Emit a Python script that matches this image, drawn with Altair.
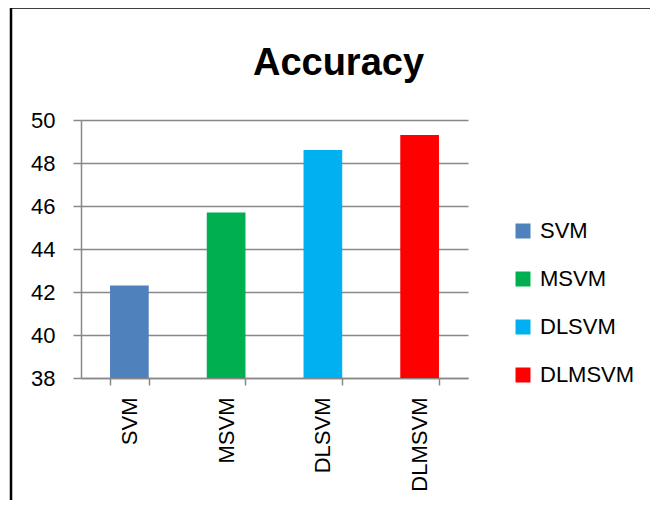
import altair as alt
import pandas as pd

categories = ["SVM", "MSVM", "DLSVM", "DLMSVM"]
values = [42.3, 45.7, 48.6, 49.3]
colors = ["#4F81BD", "#00B050", "#00B0F0", "#FF0000"]
y_ticks = [38, 40, 42, 44, 46, 48, 50]

df = pd.DataFrame({"method": categories, "accuracy": values})

FONT = "Liberation Sans"

bars = alt.Chart(df).mark_bar(clip=True).encode(
    x=alt.X(
        "method:N",
        sort=categories,
        scale=alt.Scale(paddingInner=0.6, paddingOuter=0.3),
        axis=alt.Axis(
            title=None,
            labelAngle=-90,
            labelFontSize=22,
            labelFont=FONT,
            labelColor="#000000",
            labelPadding=12,
            tickBand="extent",
            tickSize=7,
            tickColor="#888888",
            tickWidth=1.5,
            domainColor="#888888",
            domainWidth=1.5,
            grid=False,
        ),
    ),
    y=alt.Y(
        "accuracy:Q",
        scale=alt.Scale(domain=[38, 50], nice=False, zero=False),
        axis=alt.Axis(
            title=None,
            values=y_ticks,
            labelFontSize=22,
            labelFont=FONT,
            labelColor="#000000",
            labelPadding=18,
            tickSize=8,
            tickColor="#888888",
            tickWidth=1.5,
            domainColor="#888888",
            domainWidth=1.5,
            grid=True,
            gridColor="#888888",
            gridWidth=1.5,
        ),
    ),
    color=alt.Color(
        "method:N",
        sort=categories,
        scale=alt.Scale(domain=categories, range=colors),
        legend=alt.Legend(
            title=None,
            orient="none",
            legendX=431,
            legendY=100,
            symbolType="square",
            symbolSize=225,
            symbolStrokeWidth=0,
            symbolOpacity=1,
            labelFontSize=22,
            labelFont=FONT,
            labelColor="#000000",
            labelOffset=6,
            rowPadding=26,
            padding=0,
        ),
    ),
)

border = alt.Chart(pd.DataFrame({"a": [0]})).mark_rect(
    fill=None, stroke="#000000", strokeWidth=2.5, clip=False
).encode(
    x=alt.value(-70),
    x2=alt.value(620),
    y=alt.value(-112.5),
    y2=alt.value(520),
)

chart = alt.layer(border, bars).properties(
    width=387,
    height=258,
    padding={"left": 73, "top": 112, "right": 182, "bottom": 122},
    autosize=alt.AutoSizeParams(type="none"),
    title=alt.TitleParams(
        "Accuracy",
        font=FONT,
        fontSize=38,
        fontWeight="bold",
        color="#000000",
        anchor="middle",
        frame="group",
        dx=64,
        baseline="alphabetic",
        offset=-107,
    ),
).configure_view(stroke=None)

chart.save("out.html", embed_options={"renderer": "svg", "actions": False})
